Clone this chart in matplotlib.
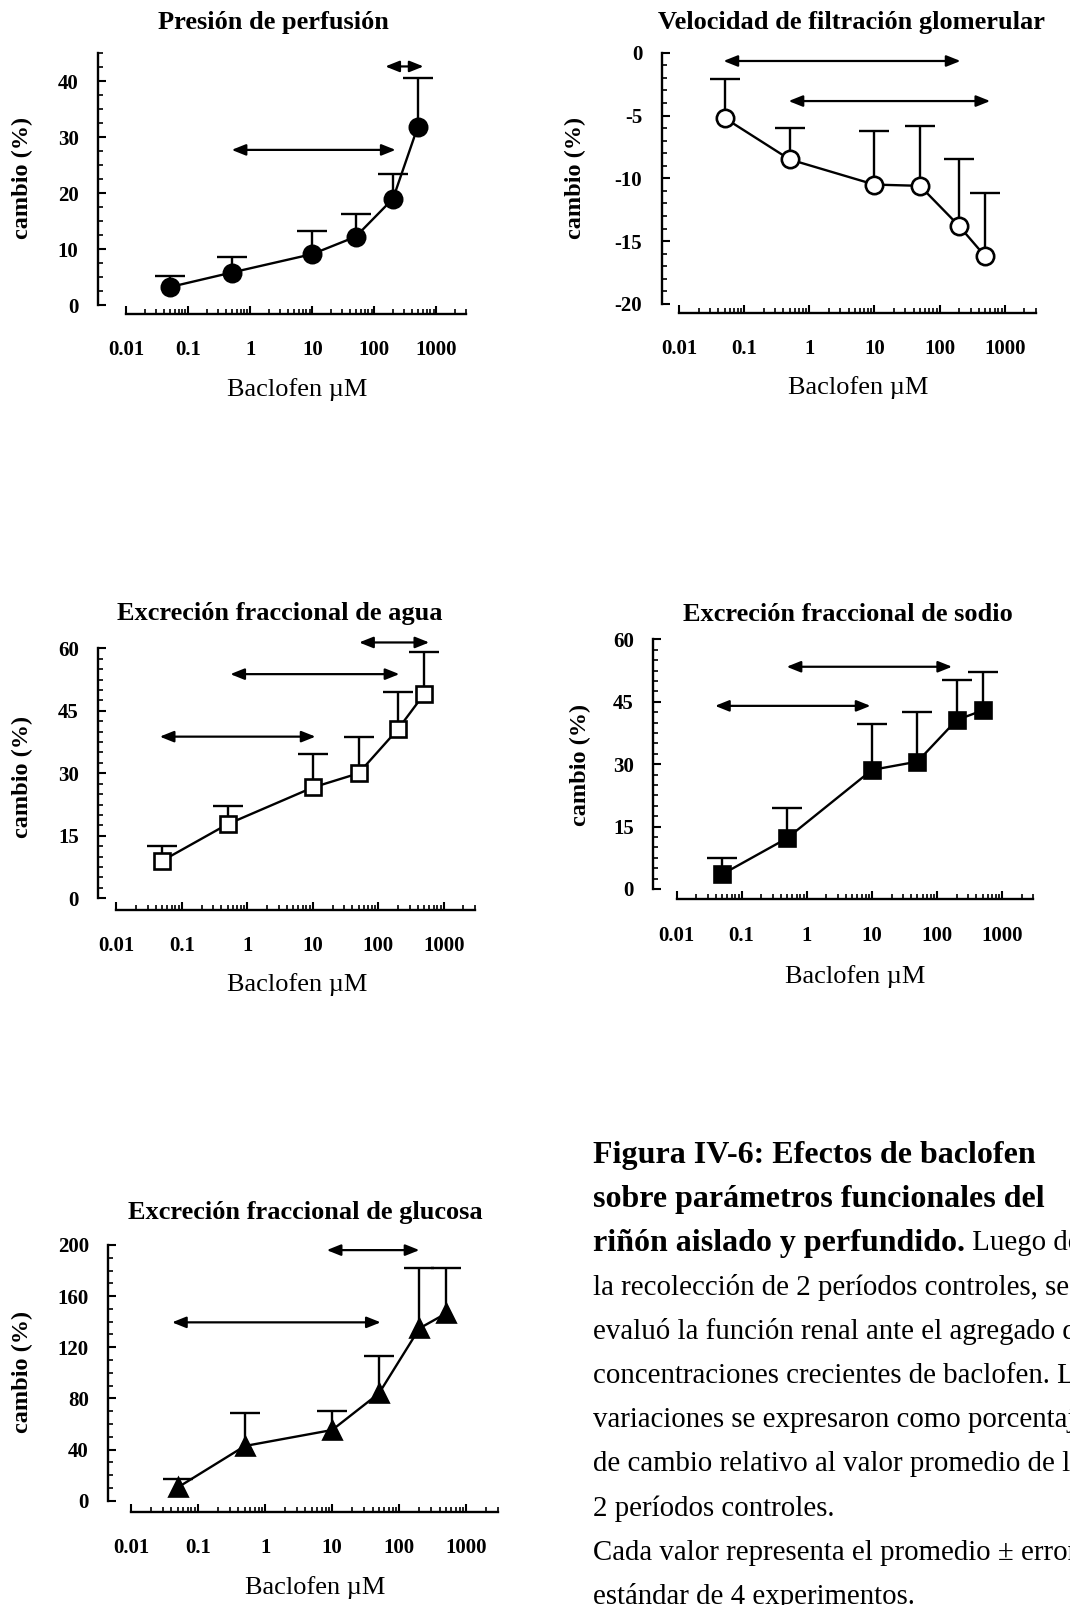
import numpy as np
import matplotlib
matplotlib.use('Agg')
import matplotlib.pyplot as plt
from matplotlib.ticker import FixedLocator, FixedFormatter, NullFormatter

plt.rcParams['font.family'] = ['Liberation Serif', 'DejaVu Serif']
plt.rcParams['axes.unicode_minus'] = False

W, H = 1070, 1605

# ---------------- data ----------------
conc = [0.05, 0.5, 10, 50, 200, 500]
xtick_vals = [0.01, 0.1, 1, 10, 100, 1000]
xtick_labels = ['0.01', '0.1', '1', '10', '100', '1000']

titles = ['Presión de perfusión',
          'Velocidad de filtración glomerular',
          'Excreción fraccional de agua',
          'Excreción fraccional de sodio',
          'Excreción fraccional de glucosa']

pp_mean = [3.2, 5.8, 9.1, 12.2, 19.0, 31.8]
pp_err = [1.9, 2.7, 4.1, 4.0, 4.4, 8.7]

vfg_mean = [-5.2, -8.5, -10.5, -10.6, -13.8, -16.2]
vfg_err = [3.1, 2.5, 4.3, 4.8, 5.3, 5.0]

agua_mean = [9.0, 17.8, 26.6, 30.0, 40.6, 49.0]
agua_err = [3.6, 4.4, 8.0, 8.8, 9.0, 10.0]

sodio_mean = [3.5, 12.2, 28.6, 30.6, 40.6, 42.9]
sodio_err = [4.0, 7.2, 11.0, 11.9, 9.6, 9.3]

gluc_mean = [10.4, 42.8, 55.3, 84.0, 134.8, 146.5]
gluc_err = [6.3, 25.5, 15.1, 29.2, 46.9, 35.2]

# significance arrows: (x_start, x_end, y)
pp_arrows = [(0.5, 220, 27.7), (150, 620, 42.6)]
vfg_arrows = [(0.048, 210, -0.66), (0.48, 600, -3.85)]
agua_arrows = [(0.046, 11, 38.8), (0.55, 210, 53.8), (51, 600, 61.4)]
sodio_arrows = [(0.039, 9.5, 44.0), (0.49, 170, 53.4)]
gluc_arrows = [(0.041, 53, 139.5), (8.3, 200, 196.0)]

caption_bold = ['Figura IV-6: Efectos de baclofen',
                'sobre parámetros funcionales del',
                'riñón aislado y perfundido.']
caption_rest = [' Luego de',
                'la recolección de 2 períodos controles, se',
                'evaluó la función renal ante el agregado de',
                'concentraciones crecientes de baclofen. Las',
                'variaciones se expresaron como porcentaje',
                'de cambio relativo al valor promedio de los',
                '2 períodos controles.',
                'Cada valor representa el promedio ± error',
                'estándar de 4 experimentos.']

# ---------------- layout ----------------
panels = [
    dict(mean=pp_mean, err=pp_err, arrows=pp_arrows, marker='o', mfc='black', ms=12.5,
         box=(98, 466, 53, 314), xl=0.0035, ylim=(-1.6, 45), ysp=(0, 45),
         major=(0, 40, 10), minor=(0, 45, 2.5),
         title=(273, 22), ylab=(22, 178), xlab=(297, 390)),
    dict(mean=vfg_mean, err=vfg_err, arrows=vfg_arrows, marker='o', mfc='white', ms=12.5,
         box=(661.7, 1035.7, 52.7, 312.7), xl=0.0054, ylim=(-20.7, 0), ysp=(-20, 0),
         major=(-20, 0, 5), minor=(-20, 0, 1),
         title=(852, 22), ylab=(575, 178), xlab=(858, 388)),
    dict(mean=agua_mean, err=agua_err, arrows=agua_arrows, marker='s', mfc='white', ms=11,
         box=(98.3, 475, 648.3, 910), xl=0.0053, ylim=(-2.8, 60), ysp=(0, 60),
         major=(0, 60, 15), minor=(0, 60, 2.5),
         title=(280, 613), ylab=(22, 777), xlab=(297, 985)),
    dict(mean=sodio_mean, err=sodio_err, arrows=sodio_arrows, marker='s', mfc='black', ms=11,
         box=(653.3, 1033.3, 639.3, 899.3), xl=0.0044, ylim=(-2.5, 60), ysp=(0, 60),
         major=(0, 60, 15), minor=(0, 60, 2.5),
         title=(848, 615), ylab=(580, 765), xlab=(855, 977)),
    dict(mean=gluc_mean, err=gluc_err, arrows=gluc_arrows, marker='^', mfc='black', ms=12.5,
         box=(108.3, 498.3, 1245, 1511.7), xl=0.0046, ylim=(-8.6, 200), ysp=(0, 200),
         major=(0, 200, 40), minor=(0, 200, 10),
         title=(305, 1212), ylab=(22, 1372), xlab=(315, 1588)),
]

XR = 3000
minor_x = [m * 10.0 ** k for k in range(-2, 4) for m in range(2, 10) if m * 10.0 ** k <= XR]

fig = plt.figure(figsize=(W / 100, H / 100), dpi=100)


def fx(px):
    return px / W


def fy(py):
    return 1 - py / H


for i, p in enumerate(panels):
    lx, rx, ty, by = p['box']
    ax = fig.add_axes([fx(lx), fy(by), fx(rx - lx), (by - ty) / H])
    ax.set_xscale('log')
    ax.set_xlim(p['xl'], XR)
    ax.set_ylim(*p['ylim'])

    lower = np.zeros(len(conc))
    cont = ax.errorbar(conc, p['mean'], yerr=[lower, p['err']], fmt='-', color='black',
                       lw=1.7, elinewidth=1.7, capsize=11, capthick=1.7, clip_on=False,
                       zorder=2)
    # hide the cap drawn at the mean (one-sided error bars)
    mean_arr = np.asarray(p['mean'], dtype=float)
    for cl in cont[1]:
        if np.allclose(np.asarray(cl.get_ydata(), dtype=float), mean_arr):
            cl.set_visible(False)
        cl.set_clip_on(False)
    ax.plot(conc, p['mean'], linestyle='none', marker=p['marker'], ms=p['ms'],
            mfc=p['mfc'], mec='black', mew=1.9, clip_on=False, zorder=3)

    for (x0, x1, y) in p['arrows']:
        ax.annotate('', xy=(x1, y), xytext=(x0, y), annotation_clip=False,
                    arrowprops=dict(arrowstyle='<|-|>,head_length=0.7,head_width=0.28',
                                    lw=1.6, color='black', shrinkA=0, shrinkB=0,
                                    mutation_scale=12))

    for s in ('top', 'right'):
        ax.spines[s].set_visible(False)
    ax.spines['left'].set_bounds(*p['ysp'])
    ax.spines['bottom'].set_bounds(0.01, XR)
    ax.spines['left'].set_linewidth(1.7)
    ax.spines['bottom'].set_linewidth(1.7)

    ax.xaxis.set_major_locator(FixedLocator(xtick_vals))
    ax.xaxis.set_major_formatter(FixedFormatter(xtick_labels))
    ax.xaxis.set_minor_locator(FixedLocator(minor_x))
    ax.xaxis.set_minor_formatter(NullFormatter())

    a, b, st = p['major']
    ax.yaxis.set_major_locator(FixedLocator(np.arange(a, b + st / 2, st)))
    a, b, st = p['minor']
    ax.yaxis.set_minor_locator(FixedLocator(np.arange(a, b + st / 2, st)))

    ax.tick_params(axis='both', which='major', direction='in', width=1.5, length=6,
                   labelsize=15)
    ax.tick_params(axis='both', which='minor', direction='in', width=1.2, length=3.5)
    ax.tick_params(axis='x', which='major', pad=19)
    ax.tick_params(axis='y', which='major', pad=14)
    for lab in ax.get_xticklabels() + ax.get_yticklabels():
        lab.set_fontweight('bold')

    ax.set_xlabel('Baclofen µM', fontsize=19, ha='center', va='center')
    ax.xaxis.set_label_coords(fx(p['xlab'][0]), fy(p['xlab'][1]), transform=fig.transFigure)
    ax.set_ylabel('cambio (%)', fontsize=17.5, fontweight='bold', ha='center', va='center')
    ax.yaxis.set_label_coords(fx(p['ylab'][0]), fy(p['ylab'][1]), transform=fig.transFigure)

    fig.text(fx(p['title'][0]), fy(p['title'][1]), titles[i], fontsize=19,
             fontweight='bold', ha='center', va='center')

# ---------------- caption ----------------
cx = 593
cy0 = 1155
step = 44.2
renderer = fig.canvas.get_renderer()
lines = []
for j, t in enumerate(caption_bold):
    txt = fig.text(fx(cx), fy(cy0 + j * step), t, fontsize=23, fontweight='bold',
                   ha='left', va='center')
    lines.append(txt)
last = lines[-1]
bb = last.get_window_extent(renderer=renderer)
fig.text(bb.x1 / W, fy(cy0 + 2 * step), caption_rest[0], fontsize=20.8,
         ha='left', va='center')
for j, t in enumerate(caption_rest[1:]):
    fig.text(fx(cx), fy(cy0 + (j + 3) * step), t, fontsize=20.8, ha='left', va='center')

fig.savefig('out.png', dpi=100)
